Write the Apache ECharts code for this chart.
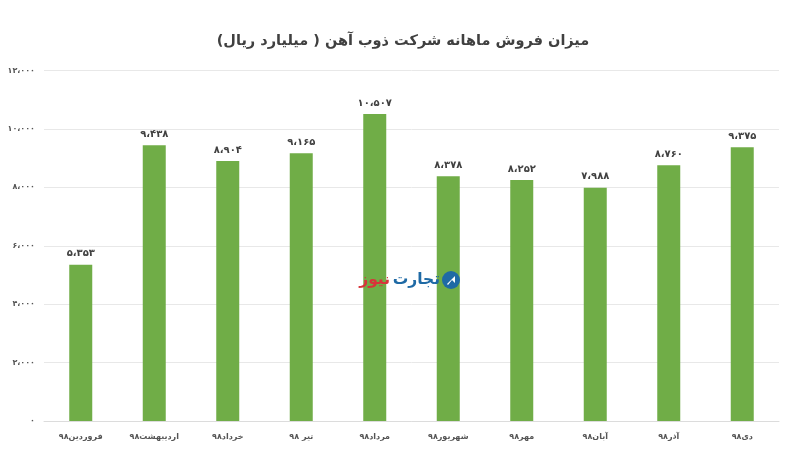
<!DOCTYPE html>
<html>
<head>
<meta charset="utf-8">
<style>
  html, body { margin: 0; padding: 0; background: #fff; }
  #chart { width: 800px; height: 458px; }
</style>
<script src="https://cdn.jsdelivr.net/npm/echarts@6/dist/echarts.min.js"></script>
</head>
<body dir="rtl">
<div id="chart"></div>
<script>
var titleText = 'میزان فروش ماهانه شرکت ذوب آهن ( میلیارد ریال)';
var months = ['فروردین۹۸', 'اردیبهشت۹۸', 'خرداد۹۸', 'تیر ۹۸', 'مرداد۹۸', 'شهریور۹۸', 'مهر۹۸', 'آبان۹۸', 'آذر۹۸', 'دی۹۸'];
var sales = [5353, 9438, 8904, 9165, 10507, 8378, 8252, 7988, 8760, 9375];

var font = '"DejaVu Sans", sans-serif';

// 10507 -> ۱۰،۵۰۷
function toPersian(v) {
  var s = String(v).replace(/\B(?=(\d{3})+$)/g, '،');
  return s.replace(/\d/g, function (d) { return '۰۱۲۳۴۵۶۷۸۹'[d]; });
}

var chart = echarts.init(document.getElementById('chart'), null, { renderer: 'canvas' });
chart.setOption({
  backgroundColor: '#fff',
  animation: false,
  title: {
    text: titleText,
    left: 398,
    top: 29,
    textAlign: 'center',
    textStyle: { fontFamily: font, fontSize: 14.5, fontWeight: 'bold', color: '#404040' }
  },
  grid: { left: 44, right: 21, top: 70.5, bottom: 37, containLabel: false },
  xAxis: {
    type: 'category',
    data: months,
    axisTick: { show: false },
    axisLine: { lineStyle: { color: '#dcdcdc' } },
    axisLabel: { interval: 0, margin: 12, fontFamily: font, fontSize: 8, fontWeight: 'bold', color: '#555' }
  },
  yAxis: {
    type: 'value',
    min: 0,
    max: 12000,
    interval: 2000,
    axisLine: { show: false },
    axisTick: { show: false },
    splitLine: { lineStyle: { color: '#e8e8e8' } },
    axisLabel: {
      margin: 9,
      fontFamily: font,
      fontSize: 8,
      fontWeight: 'bold',
      color: '#555',
      formatter: toPersian
    }
  },
  series: [{
    type: 'bar',
    data: sales,
    barWidth: 23,
    itemStyle: { color: '#70ad47' },
    label: {
      show: true,
      position: 'top',
      distance: 6,
      fontFamily: font,
      fontSize: 10,
      fontWeight: 'bold',
      color: '#404040',
      formatter: function (p) { return toPersian(p.value); }
    }
  }],
  // site logo sitting over the plot
  graphic: [
    { type: 'circle', shape: { cx: 451, cy: 280, r: 9 }, style: { fill: '#1f6aa5' }, z: 10 },
    { type: 'polygon', shape: { points: [[447, 284], [455, 276], [455, 283], [452, 280], [448, 285]] }, style: { fill: '#fff' }, z: 11 },
    { type: 'text', x: 440, y: 280, z: 10, style: { text: 'تجارت', fill: '#1f6aa5', font: 'bold 15.5px ' + font, textAlign: 'right', textVerticalAlign: 'middle' } },
    { type: 'text', x: 390, y: 280, z: 10, style: { text: 'نیوز', fill: '#d8343a', font: 'bold 15.5px ' + font, textAlign: 'right', textVerticalAlign: 'middle' } }
  ]
});
</script>
</body>
</html>
